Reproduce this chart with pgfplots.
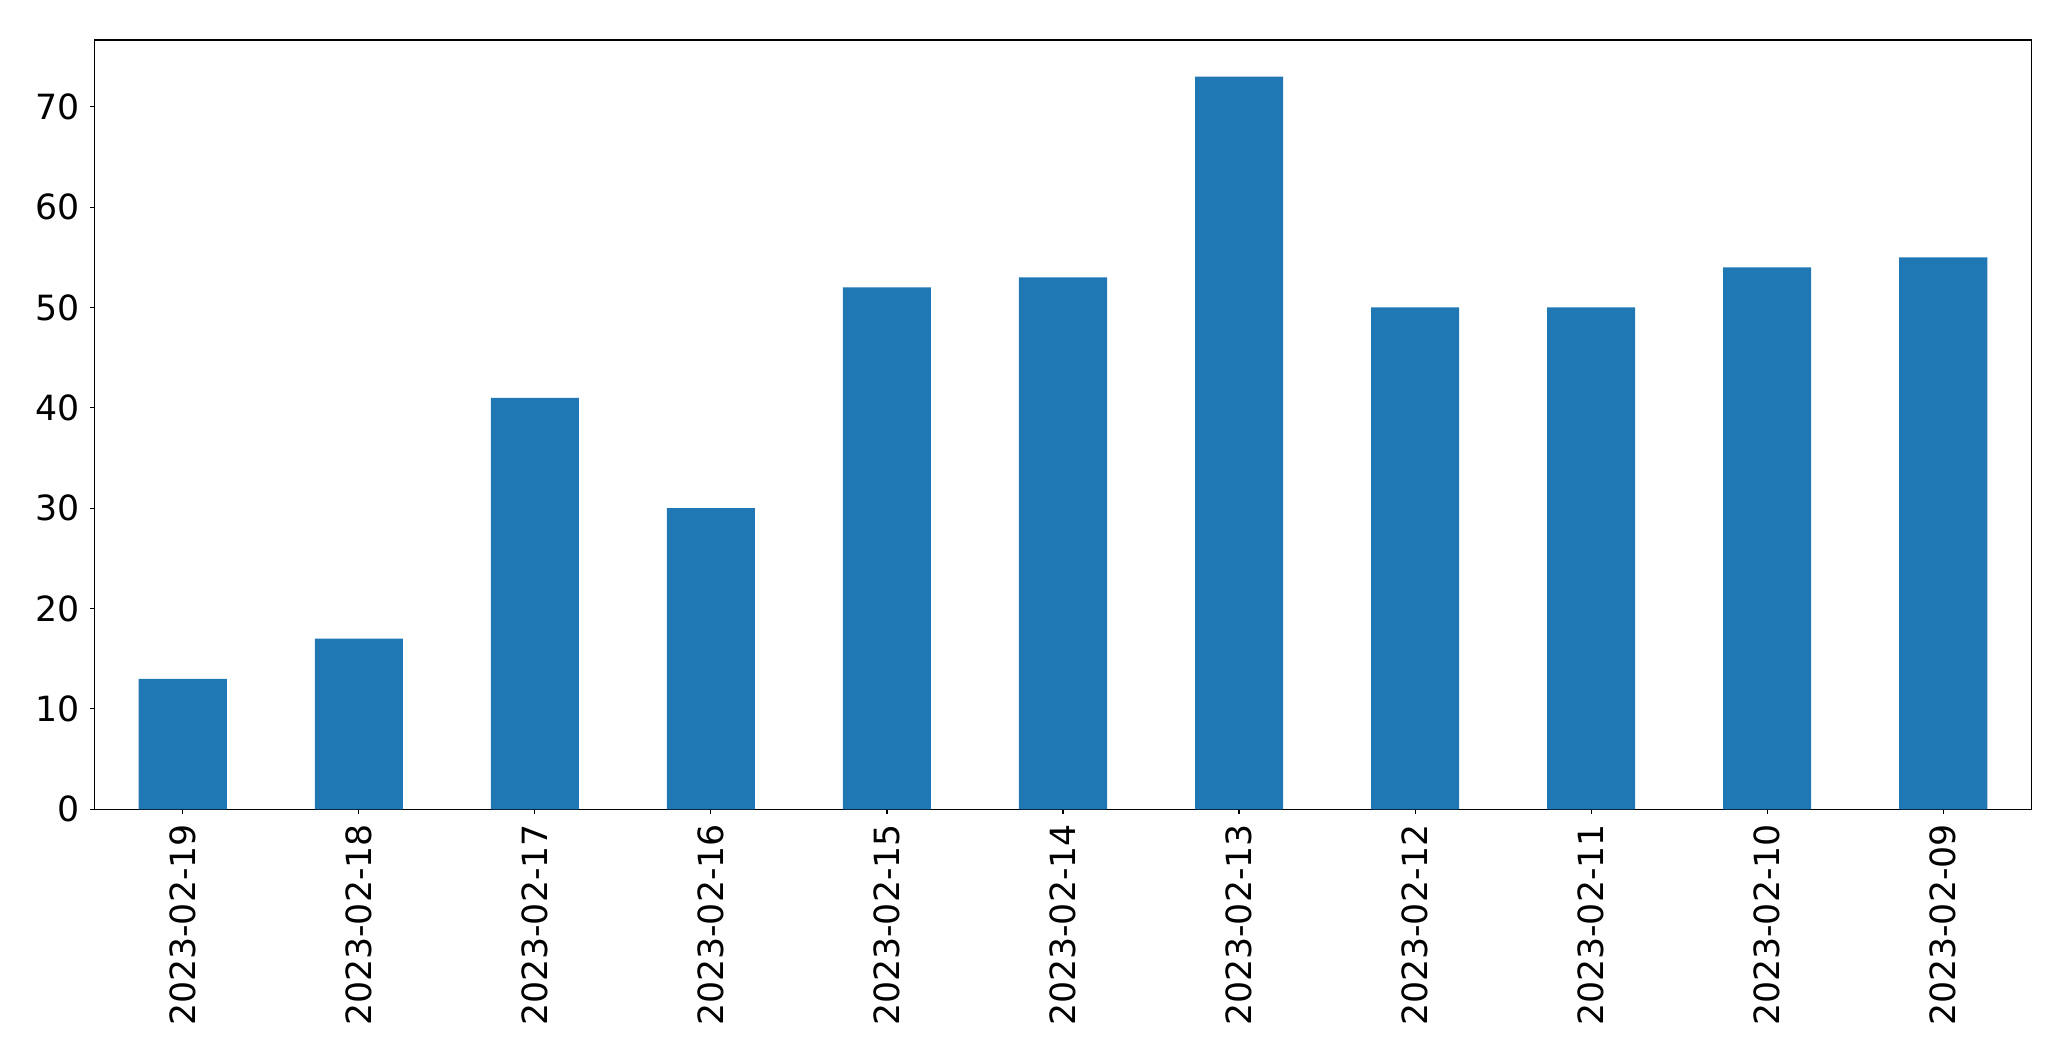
\documentclass[border=0pt]{standalone}
\usepackage{pgfplots}
\pgfplotsset{compat=1.18}
\usepackage{fontspec}
\setmainfont{DejaVu Sans}
\definecolor{mplblue}{HTML}{1F77B4}
\begin{document}
\begin{tikzpicture}
\useasboundingbox (-68.2pt,-181.2pt) rectangle (1423.0pt,582.7pt);
\begin{axis}[
  at={(0,0)}, anchor=south west,
  scale only axis,
  width=1394.4pt, height=553.9pt,
  xmin=-0.5, xmax=10.5,
  ymin=0, ymax=76.65,
  xtick={0,1,2,3,4,5,6,7,8,9,10},
  xticklabels={2023-02-19,2023-02-18,2023-02-17,2023-02-16,2023-02-15,2023-02-14,2023-02-13,2023-02-12,2023-02-11,2023-02-10,2023-02-09},
  ytick={0,10,20,30,40,50,60,70},
  tick align=outside,
  major tick length=3.5pt,
  tick style={black, line width=0.8pt},
  axis line style={black, line width=0.8pt},
  xtick pos=bottom, ytick pos=left,
  /pgf/number format/assume math mode=true,
  tick label style={font=\fontsize{25}{30}\selectfont},
  xticklabel style={rotate=90, anchor=east, inner sep=0pt, xshift=-7pt},
  yticklabel style={inner sep=0pt, xshift=-7pt},
]
\addplot[ybar, bar width=0.5, fill=mplblue, draw=none, bar shift=0pt]
  coordinates {(0,13) (1,17) (2,41) (3,30) (4,52) (5,53) (6,73) (7,50) (8,50) (9,54) (10,55)};
\end{axis}
\end{tikzpicture}
\end{document}
